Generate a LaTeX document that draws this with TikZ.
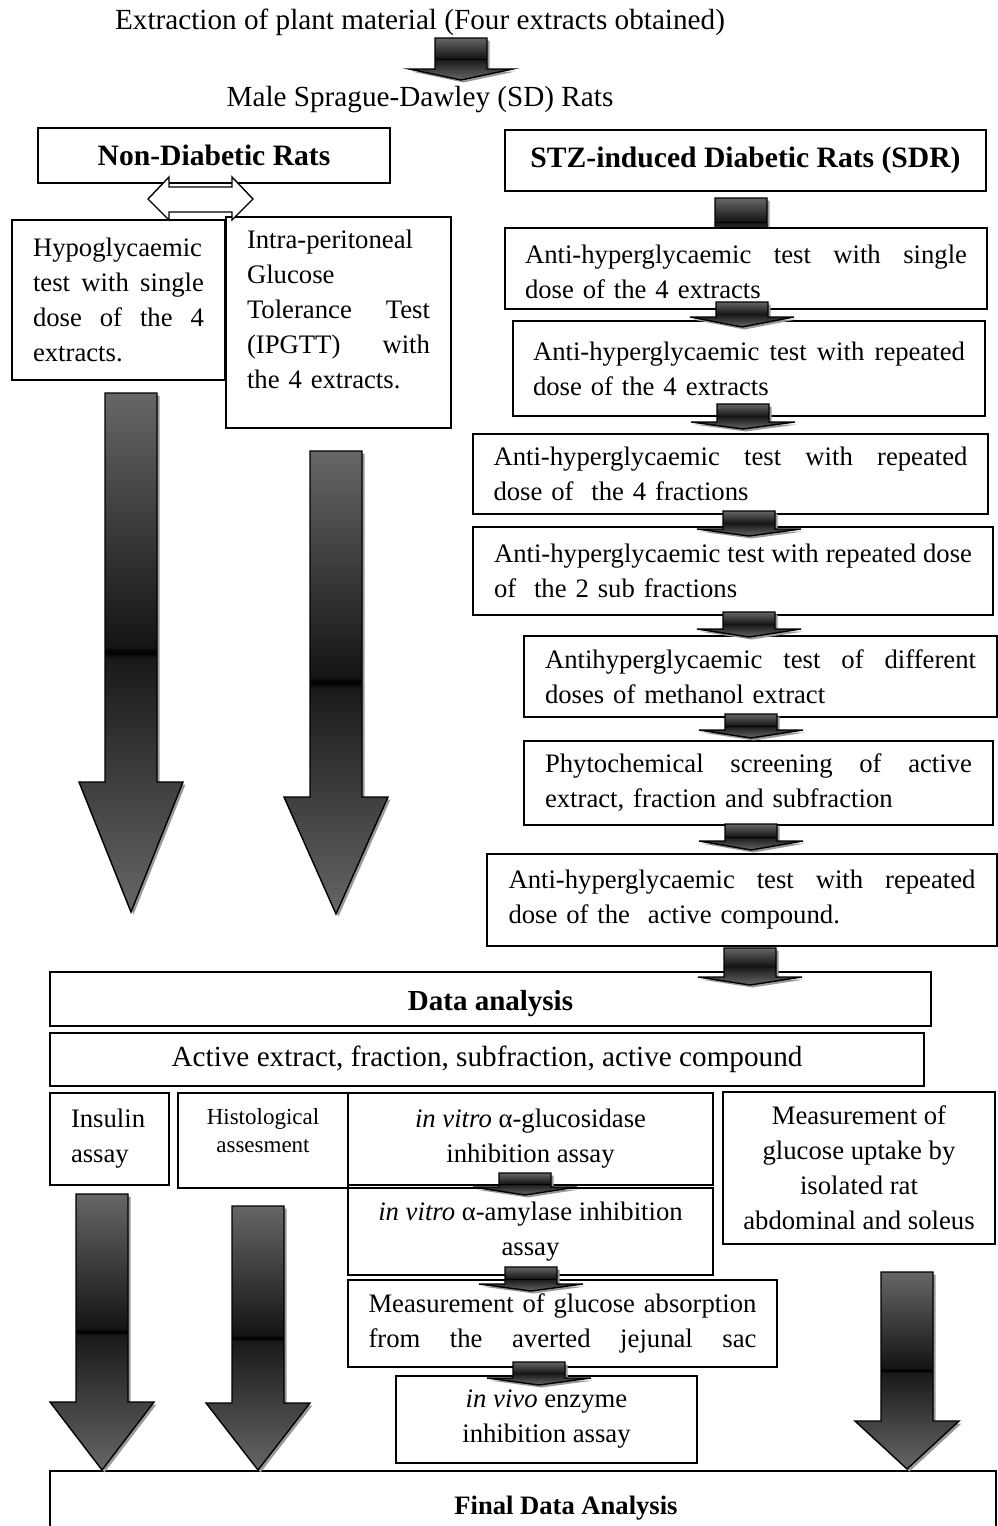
\documentclass[tikz,border=0pt]{standalone}
\usepackage{fontspec}
\setmainfont{Liberation Serif}
\usetikzlibrary{shadows}
\setlength{\parindent}{0pt}

\newcommand{\fsnorm}{\fontsize{26.7}{35}\selectfont}
\newcommand{\fstop}{\fontsize{29.2}{35}\selectfont}
\newcommand{\fshead}{\fontsize{29.6}{35}\selectfont\bfseries}
\newcommand{\fssmall}{\fontsize{23}{28}\selectfont}
% 両端揃えの一行
\newcommand{\jl}[1]{\makebox[\hsize][s]{\spaceskip=0.25em plus 1fil minus 0.08em\relax #1}}

\pgfdeclareverticalshading{arrowshade}{100bp}{color(0bp)=(black!60); color(25bp)=(black!60);
  color(49.4bp)=(black!90); color(50bp)=(black); color(50.6bp)=(black!92);
  color(75bp)=(black!60); color(100bp)=(black!60)}

% 下向きブロック矢印: 軸の左端 x, 上端, 頭の付け根, 先端
\newcommand{\blockarr}[4]{%
  \draw[blockarrow] (#1,#2) -- ({#1+52},#2) -- ({#1+52},#3) -- ({#1+78},#3)
    -- ({#1+26},#4) -- ({#1-26},#3) -- (#1,#3) -- cycle;}

\begin{document}
\begin{tikzpicture}[x=1pt, y=-1pt, line join=miter,
    every node/.style={font=\fsnorm},
    box/.style={draw, line width=1.5pt, fill=white, inner sep=0pt, align=left},
    blockarrow/.style={draw, line width=1.4pt, shade, shading=arrowshade,
      drop shadow={shadow xshift=2.5pt, shadow yshift=-2.5pt, fill=black!40, opacity=1}},
    dblarrow/.style={draw, line width=1.4pt, fill=white}]
    \useasboundingbox (0,0) rectangle (998,1526);

    % 抽出とラット
    \node[font=\fstop] (extr) at (420,22) {Extraction of plant material (Four extracts obtained)};
    \blockarr{435}{38}{69}{80}
    \node[font=\fstop] (male) at (420,100) {Male Sprague-Dawley (SD) Rats};

    % 非糖尿病ラットの列
    \node[box, minimum width=352, minimum height=55, font=\fshead] (nondia) at (214,155.5) {Non-Diabetic Rats};
    \node[box, minimum width=225, minimum height=211, text width=183] (ipgtt) at (338.5,322.5)
      {Intra-peritoneal\\ Glucose\\ \jl{Tolerance Test}\\ \jl{(IPGTT) with}\\ the 4 extracts.\rule[-26pt]{0pt}{0pt}};
    \node[box, minimum width=213, minimum height=160, text width=171] (hypo) at (118.5,300)
      {\mbox{Hypoglycaemic}\\ \jl{test with single}\\ \jl{dose of the 4}\\ extracts.};
    \draw[dblarrow] (148,199) -- (169,177) -- (169,187) -- (232,187) -- (232,177) -- (253,199)
      -- (232,220) -- (232,212) -- (169,212) -- (169,220) -- cycle;
    \blockarr{105}{393}{782}{912}
    \blockarr{310}{451}{797}{914}

    % STZ 糖尿病ラットの列
    \node[box, minimum width=481, minimum height=61, font=\fshead] (stz) at (745.5,160.5) {STZ-induced Diabetic Rats (SDR)};
    \blockarr{715}{198}{238}{246}
    \node[box, minimum width=482, minimum height=81, text width=442] (a1) at (746,268.5)
      {\rule{0pt}{26pt}\jl{Anti-hyperglycaemic test with single}\\ dose of the 4 extracts};
    \node[box, minimum width=472, minimum height=95, text width=432] (a2) at (749,368.5)
      {\jl{Anti-hyperglycaemic test with repeated}\\ dose of the 4 extracts};
    \node[box, minimum width=515, minimum height=80, text width=474] (a3) at (730.5,474)
      {\jl{Anti-hyperglycaemic test with repeated}\\ dose of\ \ the 4 fractions};
    \node[box, minimum width=520, minimum height=88, text width=478] (a4) at (733,571)
      {\jl{Anti-hyperglycaemic test with repeated dose}\\ of\ \ the 2 sub fractions};
    \node[box, minimum width=473, minimum height=81, text width=431] (a5) at (760.5,676.5)
      {\jl{Antihyperglycaemic test of different}\\ doses of methanol extract};
    \node[box, minimum width=469, minimum height=84, text width=427] (a6) at (758.5,783)
      {\jl{Phytochemical screening of active}\\ extract, fraction and subfraction};
    \node[box, minimum width=510, minimum height=92, text width=467] (a7) at (742,900)
      {\jl{Anti-hyperglycaemic test with repeated}\\ dose of the\ \ active compound.};
    \blockarr{716}{302}{317}{327}
    \blockarr{717}{404}{422}{429}
    \blockarr{723}{511}{529}{536}
    \blockarr{723}{612}{629}{637}
    \blockarr{725}{714}{730}{738}
    \blockarr{725}{824}{841}{850}

    % データ解析
    \node[box, minimum width=881, minimum height=54, font=\fontsize{29}{35}\selectfont\bfseries] (data) at (490.5,999)
      {\rule{0pt}{30pt}Data analysis};
    \node[box, minimum width=874, minimum height=53, font=\fstop] (active) at (487,1059.5)
      {Active extract, fraction, subfraction, active compound};
    \blockarr{724}{948}{977}{985}

    % 各種アッセイ
    \node[box, minimum width=119, minimum height=92, text width=77] (insulin) at (109.5,1139) {Insulin\\ assay};
    \node[box, minimum width=170, minimum height=95, align=center, font=\fssmall] (histo) at (263,1140.5)
      {Histological\\ assesment\rule[-20pt]{0pt}{0pt}};
    \node[box, minimum width=365, minimum height=92, align=center] (gluco) at (530.5,1139)
      {\textit{in vitro} α-glucosidase\\ inhibition assay};
    \node[box, minimum width=365, minimum height=87, align=center] (amyl) at (530.5,1231.5)
      {\textit{in vitro} α-amylase inhibition\\ assay};
    \node[box, minimum width=429, minimum height=87, text width=388] (absorp) at (562.5,1323.5)
      {\jl{Measurement of glucose absorption}\\ \jl{from the averted jejunal sac}};
    \node[box, minimum width=301, minimum height=87, align=center] (vivo) at (546.5,1419.5)
      {\textit{in vivo} enzyme\\ inhibition assay};
    \node[box, minimum width=272, minimum height=152, align=center] (uptake) at (859,1168)
      {Measurement of\\ glucose uptake by\\ isolated rat\\ abdominal and soleus};
    \blockarr{499}{1173}{1187}{1195}
    \blockarr{505}{1267}{1284}{1291}
    \blockarr{513}{1362}{1378}{1385}

    % 最終解析
    \node[box, minimum width=946, minimum height=74, font=\fontsize{26.6}{35}\selectfont\bfseries] (final) at (523,1508)
      {\hspace*{86pt}Final Data Analysis};
    \blockarr{76}{1194}{1402}{1470}
    \blockarr{232}{1206}{1403}{1470}
    \blockarr{881}{1272}{1421}{1469}
\end{tikzpicture}
\end{document}
